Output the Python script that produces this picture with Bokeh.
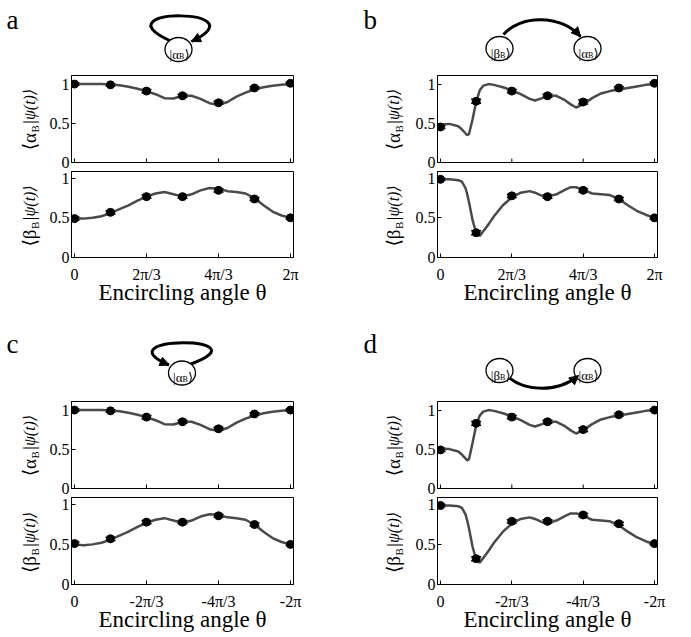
import numpy as np
from bokeh.plotting import figure
from bokeh.models import (Range1d, Label, Whisker, TeeHead, ColumnDataSource,
                          FixedTicker, Arrow, NormalHead)
from bokeh.layouts import column, row
from bokeh.embed import file_html
from bokeh.resources import INLINE

# ---------------- data (encircling angle in units of pi/3) ----------------
point_theta = [0, 1, 2, 3, 4, 5, 6]

# panel a (counter-clockwise loop, start in |alpha_B>)
a_alpha_pts = [1.00, 0.99, 0.91, 0.85, 0.76, 0.95, 1.01]
a_alpha_err = [0.015, 0.015, 0.02, 0.02, 0.02, 0.015, 0.015]
a_beta_pts = [0.49, 0.57, 0.77, 0.77, 0.85, 0.74, 0.50]
a_beta_err = [0.02, 0.02, 0.02, 0.02, 0.02, 0.02, 0.015]
a_curve_theta = [0, 0.25, 0.5, 0.75, 1, 1.25, 1.5, 1.75, 2, 2.25, 2.5, 2.75, 3,
                 3.25, 3.5, 3.75, 4, 4.25, 4.5, 4.75, 5, 5.25, 5.5, 5.75, 6]
a_alpha_curve = [1.0, 1.0, 1.0, 1.0, 0.995, 0.985, 0.965, 0.94, 0.91, 0.87, 0.82,
                 0.815, 0.85, 0.85, 0.81, 0.755, 0.735, 0.77, 0.84, 0.89, 0.93,
                 0.96, 0.98, 0.99, 1.0]
a_beta_curve = [0.49, 0.49, 0.50, 0.52, 0.56, 0.61, 0.66, 0.72, 0.77, 0.81, 0.83,
                0.80, 0.77, 0.80, 0.85, 0.88, 0.87, 0.84, 0.83, 0.81, 0.75, 0.66,
                0.58, 0.53, 0.50]

# panel b (start in |beta_B>, end in |alpha_B>)
b_alpha_pts = [0.45, 0.78, 0.91, 0.85, 0.77, 0.95, 1.01]
b_alpha_err = [0.02, 0.025, 0.02, 0.02, 0.025, 0.015, 0.015]
b_beta_pts = [0.99, 0.31, 0.78, 0.77, 0.85, 0.74, 0.50]
b_beta_err = [0.015, 0.025, 0.02, 0.02, 0.02, 0.02, 0.015]
b_curve_theta = [0, 0.25, 0.5, 0.6, 0.7, 0.75, 0.8, 0.9, 1.0, 1.1, 1.2, 1.35, 1.5,
                 1.75, 2, 2.25, 2.5, 2.65, 2.85, 3, 3.25, 3.5, 3.65, 3.8, 4, 4.25,
                 4.5, 4.75, 5, 5.25, 5.5, 5.75, 6]
b_alpha_curve = [0.48, 0.49, 0.46, 0.42, 0.37, 0.345, 0.36, 0.55, 0.77, 0.92, 0.98,
                 1.0, 0.99, 0.96, 0.92, 0.87, 0.81, 0.79, 0.82, 0.85, 0.85, 0.79,
                 0.74, 0.70, 0.74, 0.82, 0.88, 0.91, 0.93, 0.95, 0.97, 0.99, 1.0]
b_beta_curve = [0.99, 0.99, 0.98, 0.96, 0.88, 0.80, 0.70, 0.47, 0.31, 0.27, 0.33,
                0.42, 0.52, 0.66, 0.76, 0.82, 0.84, 0.82, 0.78, 0.77, 0.80, 0.86,
                0.89, 0.89, 0.86, 0.81, 0.80, 0.79, 0.74, 0.66, 0.59, 0.54, 0.50]

# panel c (clockwise loop, start in |alpha_B>)
c_alpha_pts = [1.00, 0.99, 0.91, 0.85, 0.76, 0.95, 1.00]
c_alpha_err = [0.015, 0.015, 0.02, 0.02, 0.02, 0.015, 0.015]
c_beta_pts = [0.51, 0.57, 0.78, 0.78, 0.86, 0.75, 0.50]
c_beta_err = [0.02, 0.02, 0.02, 0.02, 0.02, 0.02, 0.015]
c_alpha_curve = [1.0, 1.0, 1.0, 1.0, 0.995, 0.985, 0.965, 0.94, 0.91, 0.87, 0.82,
                 0.815, 0.85, 0.85, 0.81, 0.755, 0.735, 0.77, 0.84, 0.89, 0.93,
                 0.96, 0.98, 0.99, 1.0]
c_beta_curve = [0.50, 0.49, 0.50, 0.52, 0.56, 0.61, 0.66, 0.72, 0.77, 0.81, 0.83,
                0.80, 0.77, 0.80, 0.85, 0.88, 0.87, 0.84, 0.83, 0.81, 0.75, 0.66,
                0.58, 0.53, 0.50]

# panel d (start in |beta_B>, end in |alpha_B>, opposite direction)
d_alpha_pts = [0.49, 0.83, 0.91, 0.85, 0.75, 0.94, 1.00]
d_alpha_err = [0.02, 0.025, 0.02, 0.02, 0.025, 0.015, 0.015]
d_beta_pts = [0.99, 0.32, 0.79, 0.79, 0.87, 0.76, 0.51]
d_beta_err = [0.015, 0.025, 0.02, 0.02, 0.02, 0.02, 0.015]
d_alpha_curve = [0.50, 0.50, 0.47, 0.43, 0.38, 0.355, 0.37, 0.58, 0.80, 0.93, 0.98,
                 1.0, 0.99, 0.96, 0.92, 0.87, 0.81, 0.79, 0.82, 0.85, 0.85, 0.79,
                 0.74, 0.70, 0.74, 0.82, 0.88, 0.91, 0.93, 0.95, 0.97, 0.99, 1.0]
d_beta_curve = [0.99, 0.99, 0.98, 0.96, 0.88, 0.80, 0.70, 0.47, 0.31, 0.27, 0.33,
                0.42, 0.52, 0.66, 0.76, 0.82, 0.84, 0.82, 0.78, 0.77, 0.80, 0.86,
                0.89, 0.89, 0.86, 0.81, 0.80, 0.79, 0.74, 0.66, 0.59, 0.54, 0.50]

tick_steps = [0, 2, 4, 6]
tick_labels_pos = ["0", "2π/3", "4π/3", "2π"]
tick_labels_neg = ["0", "-2π/3", "-4π/3", "-2π"]
panel_letters = ["a", "b", "c", "d"]
x_title = "Encircling angle θ"

# ---------------- style / layout constants (page pixel coordinates) ----------------
SER = "Liberation Serif"
SER_MATH = "Liberation Serif, DejaVu Sans"   # DejaVu Sans supplies ⟨ ⟩
CURVE = "#4a4a4a"
# (y-label strip x0, x1, plot min_border_left, frame_width, min_border_right)
COLS = {"L": (8, 53, 26, 222, 44), "R": (345, 420, 24, 220, 10)}
YLAB_X = {"L": 37, "R": 401}
Y_END_TOP, Y_END_BOT = 1.11, 1.09
Y_START = -0.005


def make_plot(col, top, sign, cx, cy, px, py, perr, labels, frame_h, mbt, mbb):
    _, _, mbl, fw, mbr = COLS[col]
    xr = Range1d(-0.083, 6.083) if sign > 0 else Range1d(0.083, -6.083)
    y_end = Y_END_TOP if top else Y_END_BOT
    p = figure(frame_width=fw, frame_height=frame_h, min_border_left=mbl,
               min_border_right=mbr, min_border_top=mbt, min_border_bottom=mbb,
               x_range=xr, y_range=Range1d(Y_START, y_end), toolbar_location=None,
               output_backend="svg", outline_line_color="black", outline_line_width=1,
               x_axis_location=None if top else "below")
    p.grid.visible = False
    p.line([sign * v for v in cx], cy, line_color=CURVE, line_width=2.5)
    src = ColumnDataSource(dict(x=[sign * v for v in px], y=py,
                                lo=[a - e for a, e in zip(py, perr)],
                                up=[a + e for a, e in zip(py, perr)]))
    p.add_layout(Whisker(source=src, base="x", lower="lo", upper="up",
                         line_color="black", line_width=1.5,
                         upper_head=TeeHead(size=10, line_width=1.5, line_color="black"),
                         lower_head=TeeHead(size=10, line_width=1.5, line_color="black")))
    p.scatter("x", "y", source=src, size=8, color="black")

    ticks = [sign * t for t in tick_steps]
    axes = [p.yaxis[0]]
    if top:
        # tick marks only (inward), no labels, on the bottom edge
        ppu = frame_h / (y_end - Y_START)
        p.segment(x0=ticks, y0=[Y_START] * len(ticks), x1=ticks,
                  y1=[Y_START + 4 / ppu] * len(ticks), line_color="black", line_width=1)
    else:
        p.xaxis.ticker = FixedTicker(ticks=ticks)
        p.xaxis.major_label_overrides = {t: s for t, s in zip(ticks, labels)}
        axes.append(p.xaxis[0])
    p.yaxis.ticker = FixedTicker(ticks=[0, 0.5, 1])
    for ax in axes:
        ax.axis_line_color = "black"
        ax.major_tick_line_color = "black"
        ax.major_tick_in = 4
        ax.major_tick_out = 0
        ax.minor_tick_line_color = None
        ax.major_label_text_font = SER
        ax.major_label_text_font_size = "16px"
        ax.major_label_text_color = "black"
        ax.major_label_standoff = 2
    if not top:
        p.xaxis.major_label_standoff = 8
        p.xaxis.axis_label = x_title
        p.xaxis.axis_label_text_font = SER
        p.xaxis.axis_label_text_font_size = "23px"
        p.xaxis.axis_label_text_font_style = "normal"
        p.xaxis.axis_label_text_color = "black"
        p.xaxis.axis_label_standoff = -6
    return p


def strip_fig(x0, x1, y0, y1):
    p = figure(width=x1 - x0, height=y1 - y0, x_range=Range1d(x0, x1),
               y_range=Range1d(y1, y0), x_axis_type=None, y_axis_type=None,
               toolbar_location=None, output_backend="svg", min_border=0,
               outline_line_color=None)
    p.grid.visible = False
    return p


def make_ylab(col, y0, y1, entries):
    """One strip holding the rotated titles <greek_B|psi(t)> of both sub-plots."""
    x0, x1 = COLS[col][0], COLS[col][1]
    p = strip_fig(x0, x1, y0, y1)
    xc = YLAB_X[col]
    common = dict(angle=np.pi / 2, text_font=SER_MATH, text_color="black",
                  text_baseline="middle")
    for center, greek in entries:
        ys = center + 14
        p.add_layout(Label(x=xc, y=ys, text="⟨" + greek, text_align="right",
                           text_font_size="19px", **common))
        p.add_layout(Label(x=xc + 5, y=ys - 0.5, text="B", text_align="left",
                           text_font_size="11px", **common))
        p.add_layout(Label(x=xc, y=ys - 8.5, text="|ψ(t)⟩", text_align="left",
                           text_font_size="16px", text_font_style="italic", **common))
    return p


def add_ket(p, cx, cy, greek):
    p.ellipse(x=[cx], y=[cy], width=27, height=24, fill_color="white",
              line_color="black", line_width=1.3)
    kw = dict(text_baseline="alphabetic", text_font=SER_MATH, text_color="black")
    p.add_layout(Label(x=cx + 0.5, y=cy + 4.5, text="|" + greek, text_align="right",
                       text_font_size="13px", **kw))
    p.add_layout(Label(x=cx + 0.5, y=cy + 6.5, text="B", text_align="left",
                       text_font_size="8px", **kw))
    p.add_layout(Label(x=cx + 6, y=cy + 4.5, text="⟩", text_align="left",
                       text_font_size="13px", **kw))


def add_curve(p, x0, y0, cx0, cy0, cx1, cy1, x1, y1):
    p.bezier(x0=[x0], y0=[y0], x1=[x1], y1=[y1], cx0=[cx0], cy0=[cy0],
             cx1=[cx1], cy1=[cy1], line_color="black", line_width=3)
    dx, dy = x1 - cx1, y1 - cy1
    n = (dx * dx + dy * dy) ** 0.5
    p.add_layout(Arrow(end=NormalHead(size=9, fill_color="black", line_color="black"),
                       x_start=x1 - 6 * dx / n, y_start=y1 - 6 * dy / n,
                       x_end=x1, y_end=y1, line_color="black", line_width=3))


def add_letter(p, x, y, t):
    p.add_layout(Label(x=x, y=y, text=t, text_font=SER, text_font_size="27px",
                       text_color="black", text_baseline="alphabetic",
                       text_align="left"))


# ---------------- vertical layout (page pixels, 8px page margin) ----------------
R1 = (8, 78)      # diagrams a, b
R2 = (78, 178)    # alpha plots a, b
R3 = (178, 310)   # beta plots a, b
R4 = (310, 399)   # diagrams c, d
R5 = (399, 499)   # alpha plots c, d
R6 = (499, 629)   # beta plots c, d

# ---------------- diagrams ----------------
dA = strip_fig(8, 345, *R1)
add_letter(dA, 14, 27, panel_letters[0])
add_curve(dA, 177, 48, 105, 15, 270, 15, 199, 49)
add_ket(dA, 186, 57, "α")

dB = strip_fig(345, 674, *R1)
add_letter(dB, 371, 27, panel_letters[1])
add_curve(dB, 511, 42, 528, 22, 568, 22, 588, 44)
add_ket(dB, 507, 56, "β")
add_ket(dB, 595, 56, "α")

dC = strip_fig(8, 345, *R4)
add_letter(dC, 14, 346, panel_letters[2])
add_curve(dC, 198.5, 366.5, 275, 338, 108, 338, 176.5, 367.5)
add_ket(dC, 189.5, 375.5, "α")

dD = strip_fig(345, 674, *R4)
add_letter(dD, 371, 346, panel_letters[3])
add_curve(dD, 514, 378, 532, 395, 566, 395, 586, 378)
add_ket(dD, 507, 373, "β")
add_ket(dD, 595, 373, "α")

# ---------------- plots ----------------
tA = make_plot("L", True, 1, a_curve_theta, a_alpha_curve, point_theta, a_alpha_pts,
               a_alpha_err, tick_labels_pos, 87, 5, 8)
bA = make_plot("L", False, 1, a_curve_theta, a_beta_curve, point_theta, a_beta_pts,
               a_beta_err, tick_labels_pos, 86, 1, 45)
tB = make_plot("R", True, 1, b_curve_theta, b_alpha_curve, point_theta, b_alpha_pts,
               b_alpha_err, tick_labels_pos, 87, 5, 8)
bB = make_plot("R", False, 1, b_curve_theta, b_beta_curve, point_theta, b_beta_pts,
               b_beta_err, tick_labels_pos, 86, 1, 45)
tC = make_plot("L", True, -1, a_curve_theta, c_alpha_curve, point_theta, c_alpha_pts,
               c_alpha_err, tick_labels_neg, 87, 5, 8)
bC = make_plot("L", False, -1, a_curve_theta, c_beta_curve, point_theta, c_beta_pts,
               c_beta_err, tick_labels_neg, 87, 1, 42)
tD = make_plot("R", True, -1, b_curve_theta, d_alpha_curve, point_theta, d_alpha_pts,
               d_alpha_err, tick_labels_neg, 87, 5, 8)
bD = make_plot("R", False, -1, b_curve_theta, d_beta_curve, point_theta, d_beta_pts,
               d_beta_err, tick_labels_neg, 87, 1, 42)

# y-axis titles (with subscript), centred on each frame
yAB_L = make_ylab("L", R2[0], R3[1], [(126.5, "α"), (223, "β")])
yAB_R = make_ylab("R", R2[0], R3[1], [(126.5, "α"), (223, "β")])
yCD_L = make_ylab("L", R5[0], R6[1], [(447.5, "α"), (544.5, "β")])
yCD_R = make_ylab("R", R5[0], R6[1], [(447.5, "α"), (544.5, "β")])

layout = column(row(dA, dB),
                row(yAB_L, column(tA, bA), yAB_R, column(tB, bB)),
                row(dC, dD),
                row(yCD_L, column(tC, bC), yCD_R, column(tD, bD)))

open("out.html", "w").write(file_html(layout, INLINE))
